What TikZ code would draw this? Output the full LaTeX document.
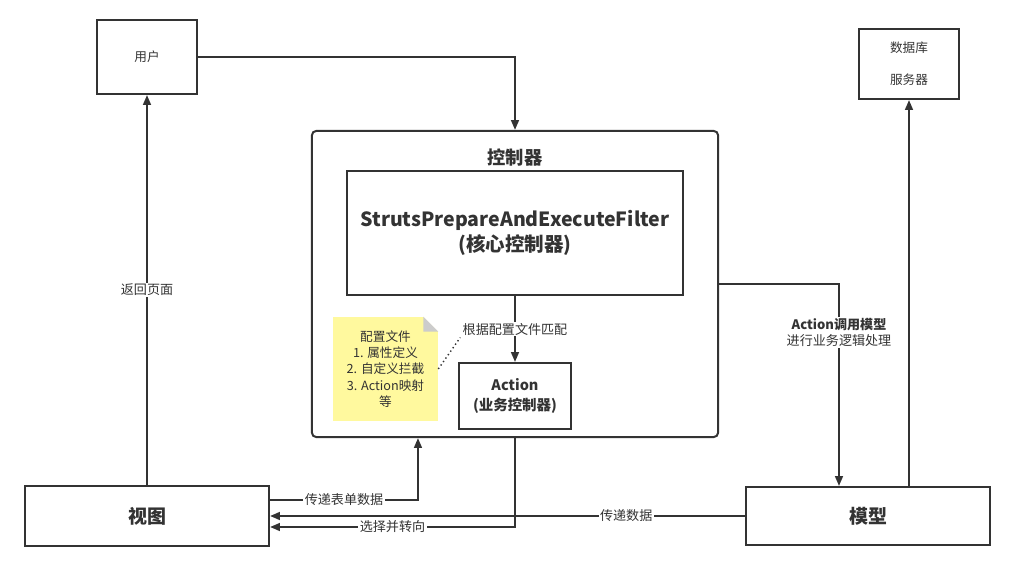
\documentclass[tikz,border=0pt]{standalone}
\usepackage{fontspec}
\setmainfont{Noto Sans CJK SC}
\usetikzlibrary{arrows.meta,calc}
\definecolor{ink}{HTML}{333333}
\definecolor{notey}{HTML}{FFF99E}
\tikzset{
    box/.style={draw=ink, line width=0.05cm, text=ink, align=center, inner sep=0pt},
    arr/.style={draw=ink, line width=0.05cm, -{Triangle[length=7pt,width=5.5pt]}},
    lbl/.style={fill=white, text=ink, font=\fontsize{9.3}{11}\selectfont, align=center, inner sep=1pt}
}
\begin{document}
\begin{tikzpicture}[x=0.025cm, y=-0.025cm]
        \useasboundingbox (0, 0) rectangle (1014, 571);

        % Top boxes
        \node[box, minimum width=2.5cm, minimum height=1.85cm, font=\fontsize{9}{10}\selectfont] (user) at (147, 57) {用户};
        \node[box, minimum width=2.5cm, minimum height=1.75cm, font=\fontsize{9}{22.5}\selectfont] (db) at (909, 64) {数据库\\服务器};

        % Controller
        \node[box, rounded corners=3pt, minimum width=10.15cm, minimum height=7.65cm] (ctrl) at (515, 284) {};
        \node[text=ink, font=\fontsize{13}{15}\selectfont\bfseries] (ctrltitle) at (515, 157) {控制器};
        \node[box, minimum width=8.4cm, minimum height=3.1cm, font=\fontsize{13.9}{18}\selectfont\bfseries] (filter) at (515, 233) {StrutsPrepareAndExecuteFilter\\(核心控制器)};
        \node[box, minimum width=2.8cm, minimum height=1.65cm, font=\fontsize{10.3}{14}\selectfont\bfseries] (action) at (515, 396) {Action\\(业务控制器)};

        % Note
        \node[fill=notey, minimum width=2.625cm, minimum height=2.6cm, inner sep=0pt, text=ink, align=center, font=\fontsize{9}{11.5}\selectfont] (note) at (385.5, 369) {配置文件\\1. 属性定义\\2. 自定义拦截\\3. Action映射\\等};
        \fill[white] (note.north east) -- ++(-15, 0) -- ++(15, 15) -- cycle;
        \fill[black!20] ($(note.north east)+(-15, 0)$) -- ++(15, 15) -- ++(-15, 0) -- cycle;

        % Bottom boxes
        \node[box, minimum width=6.1cm, minimum height=1.5cm, font=\fontsize{13.5}{15}\selectfont\bfseries] (view) at (147, 516) {视图};
        \node[box, minimum width=6.1cm, minimum height=1.45cm, font=\fontsize{13.5}{15}\selectfont\bfseries] (model) at (868, 516) {模型};

        % Arrows
        \draw[arr] (user.east) -| (ctrl.north);
        \draw[arr] (view.north) -- node[lbl] {返回页面} (user.south);
        \draw[arr] (filter.south) -- node[lbl] (match) {根据配置文件匹配} (action.north);
        \draw[ink, line width=1pt, dotted] (note.east) -- (match.south west);
        \draw[arr] ([yshift=0.4cm]view.east) -| node[lbl, pos=0.25] {传递表单数据} ([xshift=-2.425cm]ctrl.south);
        \draw[arr] (ctrl.south) |- node[lbl, pos=0.75] {选择并转向} ([yshift=-0.275cm]view.east);
        \draw[arr] (model.west) -- node[lbl, pos=0.25] {传递数据} (model.west -| view.east);
        \draw[arr] (ctrl.east) -| node[lbl, pos=0.62] {\textbf{Action调用模型}\\进行业务逻辑处理} ([xshift=-0.725cm]model.north);
        \draw[arr] (db.south |- model.north) -- (db.south);

    \end{tikzpicture}
\end{document}
